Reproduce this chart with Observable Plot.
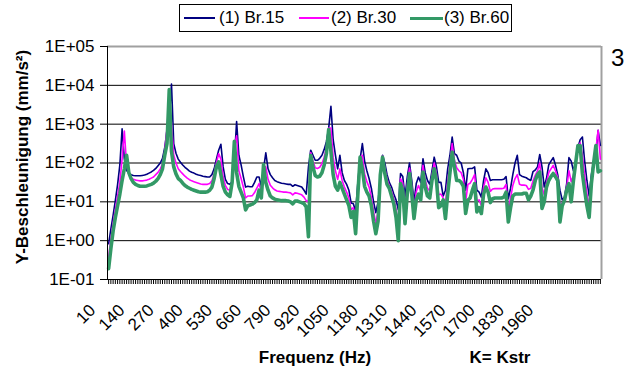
<!DOCTYPE html>
<html>
<head>
<meta charset="utf-8">
<script src="https://cdn.jsdelivr.net/npm/d3@7"></script>
<script src="https://cdn.jsdelivr.net/npm/@observablehq/plot@0.6"></script>
<style>
  html, body { margin: 0; padding: 0; background: #fff; }
  #wrap { position: relative; width: 637px; height: 374px; font-family: "Liberation Sans", Arial, sans-serif; color: #000; overflow: hidden; }
  #wrap svg { position: absolute; left: 0; top: 0; }
  .abs { position: absolute; white-space: nowrap; }
  #legend { left: 179px; top: 4px; width: 333px; height: 28px; box-sizing: border-box; border: 1px solid #000; background: #fff; font-size: 17px; }
  .sw { position: absolute; top: 12px; height: 2px; }
  .lt { position: absolute; top: 0; line-height: 26px; }
  .title { font-weight: bold; font-size: 17px; line-height: 20px; text-align: center; }
</style>
</head>
<body>
<div id="wrap"></div>
<script>
// Categories: frequency (Hz), 10 Hz steps
const freqs = d3.range(10, 2201, 10);
const xLabels = [10,140,270,400,530,660,790,920,1050,1180,1310,1440,1570,1700,1830,1960];
const yTicks = [0.1, 1, 10, 100, 1000, 10000, 100000];
const yTickLabels = ["1E-01","1E+00","1E+01","1E+02","1E+03","1E+04","1E+05"];

// Series values, stored as log10(mm/s²)
const logBr15 = [
-0.08,0.3,0.65,1.04,1.45,1.95,2.88,2.1,1.81,1.74,
1.70,1.68,1.67,1.67,1.67,1.68,1.69,1.71,1.74,1.77,
1.81,1.86,1.93,2.0,2.12,2.4,2.85,3.1,4.03,2.5,
2.25,2.1,2.02,1.95,1.89,1.84,1.79,1.76,1.74,1.71,
1.69,1.68,1.66,1.65,1.64,1.64,1.70,1.85,2.1,2.33,
2.48,1.9,1.58,1.47,1.45,1.52,2.1,3.07,2.2,1.95,
1.65,1.38,1.40,1.39,1.39,1.50,1.64,1.64,1.40,1.85,
2.26,1.85,1.7,1.62,1.55,1.52,1.50,1.48,1.47,1.46,
1.45,1.45,1.40,1.44,1.42,1.40,1.38,1.30,1.2,1.9,
2.33,2.2,2.07,2.07,2.12,2.2,2.35,2.55,2.9,3.46,
2.6,2.2,1.85,2.2,1.75,1.55,1.45,1.3,0.97,0.95,
0.75,1.5,2.1,2.5,2.05,1.8,1.6,1.35,1.0,0.72,
1.0,1.6,2.2,2.0,1.7,1.5,1.38,1.2,1.05,0.8,
1.73,1.65,1.12,1.64,2.0,1.55,1.0,1.47,1.64,1.5,
2.11,1.75,1.55,1.45,1.8,2.15,1.9,1.5,1.5,1.15,
1.3,1.85,2.2,2.67,2.24,2.2,2.05,2.0,1.75,1.3,
1.85,1.86,1.86,1.9,1.3,1.25,1.12,1.55,1.85,1.75,
1.55,1.57,1.57,1.57,1.57,1.57,1.58,1.65,1.08,1.35,
1.7,2.0,2.2,1.7,1.66,1.64,1.62,1.58,1.55,1.78,
1.82,1.9,2.22,1.9,1.38,1.6,1.95,2.05,2.14,1.95,
1.7,1.3,1.05,1.12,1.47,2.14,2.05,1.8,2.0,2.4,
2.6,2.67,2.05,1.55,1.15,1.7,2.05,2.24,2.84,2.45];

const logBr30 = [
-0.42,0.05,0.45,0.8,1.15,1.5,2.1,2.82,1.95,1.7,
1.62,1.58,1.56,1.55,1.54,1.54,1.55,1.56,1.58,1.61,
1.64,1.7,1.76,1.85,1.98,2.3,2.9,3.6,3.0,2.2,
2.0,1.85,1.78,1.72,1.66,1.61,1.57,1.54,1.52,1.5,
1.48,1.46,1.45,1.45,1.45,1.47,1.54,1.72,2.0,2.24,
2.1,1.65,1.42,1.32,1.3,1.5,2.4,2.7,1.8,1.6,
1.38,1.1,1.15,1.15,1.16,1.24,1.35,1.47,1.25,1.9,
1.9,1.58,1.43,1.36,1.31,1.28,1.27,1.26,1.25,1.25,
1.24,1.23,1.18,1.23,1.22,1.2,1.18,1.12,1.03,1.0,
2.27,2.05,1.88,1.86,1.89,1.98,2.15,2.4,2.9,2.9,
2.15,1.8,1.58,1.85,1.55,1.38,1.25,1.1,0.8,0.85,
0.45,1.35,2.12,2.2,1.72,1.52,1.38,1.12,0.75,0.45,
0.75,1.65,2.18,1.87,1.58,1.42,1.27,1.08,0.82,0.4,
1.6,1.48,0.78,1.42,1.87,1.38,0.8,1.26,1.42,1.28,
1.94,1.56,1.35,1.28,1.68,2.0,1.72,1.18,1.2,1.1,
0.94,1.52,1.98,2.5,2.07,1.88,1.8,1.75,1.58,1.0,
1.45,1.48,1.58,1.7,1.02,1.05,0.91,1.38,1.62,1.5,
1.27,1.33,1.34,1.34,1.34,1.34,1.35,1.45,0.78,1.1,
1.42,1.6,1.7,1.45,1.43,1.43,1.42,1.32,1.35,1.54,
1.68,1.8,2.0,1.37,1.19,1.49,1.75,1.85,1.94,1.8,
1.62,0.89,0.98,1.08,1.38,1.8,1.52,1.68,2.0,2.42,
2.52,2.2,1.68,1.22,0.88,1.58,2.02,2.35,2.84,2.1];

const logBr60 = [
-0.72,-0.2,0.25,0.6,0.9,1.2,1.55,1.85,2.2,1.75,
1.6,1.5,1.45,1.42,1.40,1.40,1.40,1.41,1.43,1.45,
1.48,1.53,1.6,1.7,1.85,2.2,2.5,3.89,2.3,1.9,
1.72,1.6,1.55,1.48,1.42,1.38,1.35,1.32,1.30,1.28,
1.26,1.25,1.25,1.25,1.26,1.3,1.38,1.6,1.9,2.03,
1.7,1.4,1.25,1.18,1.14,1.5,2.56,1.75,1.40,1.25,
1.1,0.79,0.9,0.92,0.94,0.98,1.05,1.3,1.1,1.96,
1.5,1.3,1.15,1.1,1.07,1.05,1.04,1.03,1.03,1.03,
1.02,1.0,0.95,1.02,1.02,1.0,0.98,0.95,0.87,0.1,
2.2,1.9,1.68,1.64,1.66,1.75,1.95,2.25,2.86,2.3,
1.7,1.4,1.3,1.5,1.35,1.2,1.05,0.9,0.6,0.75,
0.18,1.2,2.15,1.85,1.4,1.25,1.15,0.9,0.5,0.18,
0.5,1.7,2.15,1.73,1.45,1.35,1.15,0.95,0.6,0.0,
1.47,1.3,0.44,1.2,1.73,1.2,0.57,1.05,1.2,1.05,
1.77,1.38,1.15,1.1,1.55,1.85,1.55,0.85,0.9,1.05,
0.57,1.2,1.75,2.28,1.9,1.55,1.55,1.5,1.4,0.7,
1.04,1.1,1.3,1.47,0.74,0.85,0.7,1.2,1.38,1.25,
0.98,1.08,1.1,1.1,1.1,1.1,1.12,1.25,0.48,0.85,
1.15,1.2,1.2,1.2,1.2,1.22,1.22,1.05,1.15,1.3,
1.55,1.7,1.77,0.83,1.0,1.38,1.55,1.65,1.73,1.65,
1.55,0.48,0.9,1.04,1.3,1.47,1.0,1.55,2.0,2.45,
2.45,1.73,1.3,0.9,0.6,1.47,2.0,2.45,1.77,1.8];

const seriesNames = ["(1) Br.15", "(2) Br.30", "(3) Br.60"];
const seriesColors = ["#000080", "#ff00ff", "#339966"];
const seriesWidths = [1.6, 1.6, 3.6];

const toRows = (logs) => freqs.map((f, i) => ({f, v: Math.pow(10, logs[i])}));
const rows = [toRows(logBr15), toRows(logBr30), toRows(logBr60)];

const chart = Plot.plot({
  width: 637,
  height: 374,
  marginLeft: 107,
  marginRight: 36,
  marginTop: 46,
  marginBottom: 95,
  style: {fontFamily: "Liberation Sans, Arial, sans-serif", fontSize: "17px", background: "transparent", overflow: "visible", color: "#000"},
  x: {type: "linear", domain: [5, 2205]},
  y: {type: "log", domain: [0.1, 100000]},
  marks: [
    Plot.ruleY(yTicks.slice(1, -1), {stroke: "#000", strokeWidth: 1}),
    Plot.ruleY([100000], {stroke: "#a0a0a0", strokeWidth: 2}),
    Plot.ruleX([2205], {stroke: "#a0a0a0", strokeWidth: 2}),
    ...rows.map((r, k) => Plot.lineY(r, {x: "f", y: "v", stroke: seriesColors[k], strokeWidth: seriesWidths[k], strokeLinejoin: "round", strokeLinecap: "round"})),
    Plot.ruleX([5], {stroke: "#000", strokeWidth: 1}),
    Plot.ruleY([0.1], {stroke: "#000", strokeWidth: 1}),
    Plot.axisY({ticks: yTicks, tickFormat: d => yTickLabels[yTicks.indexOf(d)], tickSize: 7, tickPadding: 6, fontSize: 17, label: null}),
    Plot.axisX({ticks: freqs, tickSize: 5, tickFormat: () => "", label: null}),
    Plot.text(xLabels, {x: d => d, text: d => String(d), frameAnchor: "bottom", rotate: -45, textAnchor: "end", lineAnchor: "middle", dx: -16, dy: 28, fontSize: 17, fill: "#000"})
  ]
});

const wrap = document.getElementById("wrap");
wrap.appendChild(chart);

// Legend (HTML, above the plot)
const legend = document.createElement("div");
legend.id = "legend";
legend.className = "abs";
const legendPos = [{sw: 4, w: 31, t: 39}, {sw: 119, w: 30, t: 151}, {sw: 230, w: 33, t: 264}];
seriesNames.forEach((name, k) => {
  const sw = document.createElement("div");
  sw.className = "sw";
  sw.style.left = legendPos[k].sw + "px";
  sw.style.width = legendPos[k].w + "px";
  sw.style.background = seriesColors[k];
  sw.style.height = (k === 2 ? 3 : 2) + "px";
  legend.appendChild(sw);
  const t = document.createElement("div");
  t.className = "lt";
  t.style.left = legendPos[k].t + "px";
  t.textContent = name;
  legend.appendChild(t);
});
wrap.appendChild(legend);

function addText(txt, css, cls) {
  const d = document.createElement("div");
  d.className = "abs " + (cls || "");
  d.textContent = txt;
  Object.assign(d.style, css);
  wrap.appendChild(d);
  return d;
}
addText("Y-Beschleunigung (mm/s²)", {left: (23 - 130) + "px", top: (157 - 10) + "px", width: "260px", height: "20px", transform: "rotate(-90deg)"}, "title");
addText("Frequenz (Hz)", {left: "215px", top: "348px", width: "200px"}, "title");
addText("K= Kstr", {left: "440px", top: "348px", width: "120px"}, "title");
addText("3", {left: "611px", top: "46px", fontSize: "24px", lineHeight: "24px"});
</script>
</body>
</html>
